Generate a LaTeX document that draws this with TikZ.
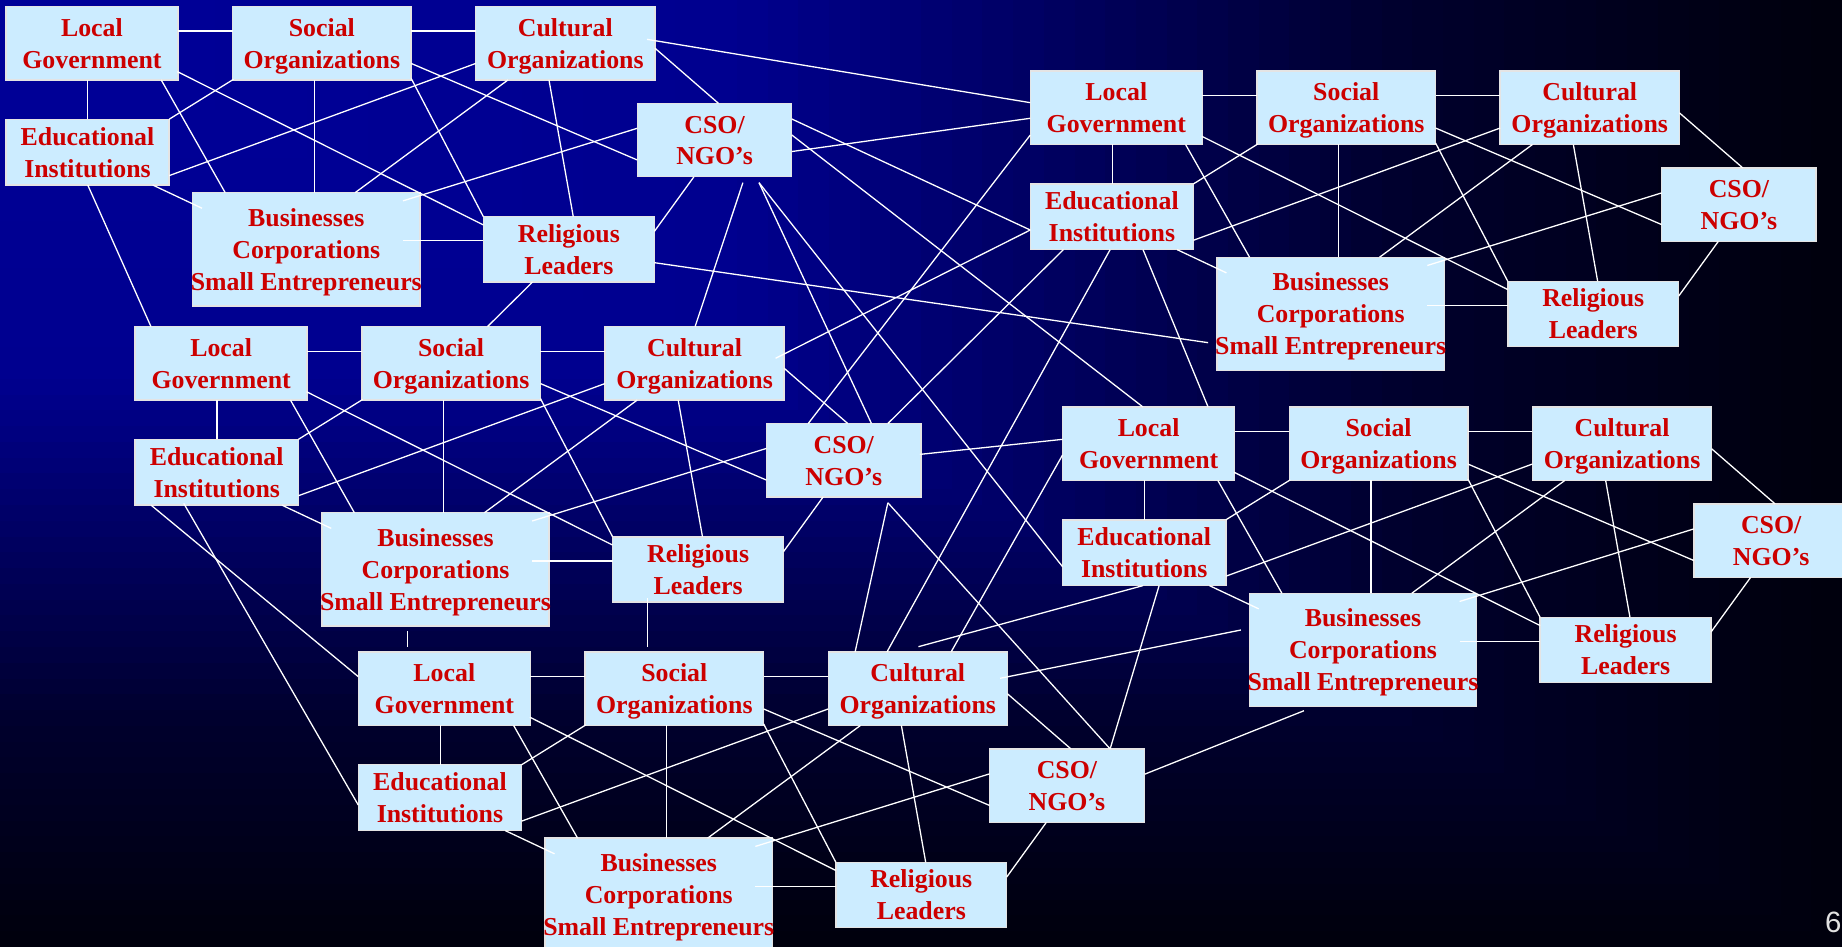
\documentclass[tikz,border=0pt]{standalone}
\usepackage{fontspec}
\newfontfamily\boxfont{Liberation Serif}
\newfontfamily\numfont{Liberation Sans}
\definecolor{boxfill}{RGB}{204,236,255}
\definecolor{boxred}{RGB}{204,0,0}
\definecolor{boxedge}{RGB}{228,228,228}
\definecolor{numgray}{RGB}{225,225,225}
% fixed line metrics so every box centres its text the same way
\newcommand{\toprl}{\rule{0pt}{10pt}}
\newcommand{\botrl}{\rule[-2.4pt]{0pt}{2.4pt}}
\tikzset{
  box/.style={draw=boxedge, line width=0.6pt, fill=boxfill, text=boxred,
    font=\boxfont\bfseries\fontsize{11}{13.6}\selectfont, align=center,
    inner sep=0pt, outer sep=0pt, anchor=north west},
  lgbox/.style={box, minimum width=73.25pt, minimum height=31.25pt},
  sobox/.style={box, minimum width=76pt, minimum height=31.25pt},
  cobox/.style={box, minimum width=76.25pt, minimum height=31.25pt},
  eibox/.style={box, minimum width=69.5pt, minimum height=28pt},
  bubox/.style={box, minimum width=96.75pt, minimum height=48.25pt},
  rlbox/.style={box, minimum width=72.75pt, minimum height=27.75pt},
  csobox/.style={box, minimum width=65.75pt, minimum height=31.25pt},
  conn/.style={draw=white, line width=0.55pt},
}
% one cluster of seven nodes with its internal connectors
\newcommand{\cluster}[3]{%
  \begin{scope}[shift={(#2,#3)}]
    \node[lgbox] (#1lg) at (5,5.5) {\toprl Local\\Government\botrl};
    \node[sobox] (#1so) at (198,5.5) {\toprl Social\\Organizations\botrl};
    \node[cobox] (#1co) at (405,5.5) {\toprl Cultural\\Organizations\botrl};
    \node[eibox] (#1ei) at (5,101.5) {\toprl Educational\\Institutions\botrl};
    \node[bubox] (#1bu) at (164,164) {\toprl Businesses\\Corporations\\\makebox[96pt]{Small Entrepreneurs}\botrl};
    \node[rlbox] (#1rl) at (411.5,184.5) {\toprl Religious\\Leaders\botrl};
    \node[csobox] (#1cso) at (542.5,88) {\toprl CSO/\\NGO’s\botrl};
  \end{scope}
  \draw[conn] ([shift={(146.5,21)}]#1lg.north west) -- ([shift={(0,21)}]#1so.north west);
  \draw[conn] ([shift={(152,21)}]#1so.north west) -- ([shift={(0,21)}]#1co.north west);
  \draw[conn] ([shift={(69.7,62.5)}]#1lg.north west) -- ([shift={(69.7,0)}]#1ei.north west);
  \draw[conn] ([shift={(146,55.5)}]#1lg.north west) -- ([shift={(0,7)}]#1rl.north west);
  \draw[conn] ([shift={(132.2,62.5)}]#1lg.north west) -- ([shift={(27.7,0)}]#1bu.north west);
  \draw[conn] ([shift={(0.8,62)}]#1so.north west) -- ([shift={(139,0)}]#1ei.north west);
  \draw[conn] ([shift={(69.5,62.5)}]#1so.north west) -- ([shift={(103.5,0)}]#1bu.north west);
  \draw[conn] ([shift={(152,48.5)}]#1so.north west) -- ([shift={(0,48.2)}]#1cso.north west);
  \draw[conn] ([shift={(152,61.2)}]#1so.north west) -- ([shift={(0,0)}]#1rl.north west);
  \draw[conn] ([shift={(0,48.5)}]#1co.north west) -- ([shift={(139,48)}]#1ei.north west);
  \draw[conn] ([shift={(27.5,62.5)}]#1co.north west) -- ([shift={(138.3,0)}]#1bu.north west);
  \draw[conn] ([shift={(62.3,62.5)}]#1co.north west) -- ([shift={(76.5,0)}]#1rl.north west);
  \draw[conn] ([shift={(152.5,35.5)}]#1co.north west) -- ([shift={(69.1,0)}]#1cso.north west);
  \draw[conn] ([shift={(125,56)}]#1ei.north west) -- ([shift={(8,13.3)}]#1bu.north west);
  \draw[conn] ([shift={(179,41)}]#1bu.north west) -- ([shift={(0,20.5)}]#1rl.north west);
  \draw[conn] ([shift={(179,7)}]#1bu.north west) -- ([shift={(0,21.2)}]#1cso.north west);
  \draw[conn] ([shift={(145.5,12.5)}]#1rl.north west) -- ([shift={(48.2,62.5)}]#1cso.north west);
}
\begin{document}
\begin{tikzpicture}[x=0.5pt, y=-0.5pt]
  \useasboundingbox (0,0) rectangle (1568,806);
  \clip (0,0) rectangle (1568,806);
  % background: corner gradient, blue at top left to black
  \foreach \i in {0,...,59}{
    \pgfmathsetmacro\t{1-\i/60}
    \pgfmathsetmacro\tm{\t-1/120}
    \pgfmathtruncatemacro\b{\tm<0.4 ? 153-25*\tm : (\tm<0.76 ? 143-(\tm-0.4)*269.4 : 46-(\tm-0.76)*141.7)}
    \definecolor{bgc}{RGB}{0,0,\b}
    \fill[bgc] (0,0) rectangle ({1568*\t},{806*\t});
  }
  % five clusters
  \cluster{A-}{0}{0}
  \cluster{B-}{872}{55}
  \cluster{C-}{110}{272.5}
  \cluster{D-}{899.5}{341}
  \cluster{E-}{300}{549.5}
  % connectors between clusters
  \draw[conn] ([shift={(145.8,28)}]A-co.north west) -- ([shift={(0,26.9)}]B-lg.north west);
  \draw[conn] ([shift={(131.5,41)}]A-cso.north west) -- ([shift={(0,40.2)}]B-lg.north west);
  \draw[conn] ([shift={(131.5,13.3)}]A-cso.north west) -- ([shift={(0,39.3)}]B-ei.north west);
  \draw[conn] ([shift={(131.5,26.9)}]A-cso.north west) -- ([shift={(68.5,0)}]D-lg.north west);
  \draw[conn] ([shift={(89.9,67.5)}]A-cso.north west) -- ([shift={(76.7,0)}]C-co.north west);
  \draw[conn] ([shift={(103.6,67.5)}]A-cso.north west) -- ([shift={(89.3,0)}]C-cso.north west);
  \draw[conn] ([shift={(103.6,67.5)}]A-cso.north west) -- ([shift={(0,39.9)}]D-ei.north west);
  \draw[conn] ([shift={(145.5,39.1)}]A-rl.north west) -- ([shift={(-7.6,72.7)}]B-bu.north west);
  \draw[conn] ([shift={(41.9,55.5)}]A-rl.north west) -- ([shift={(107,0)}]C-so.north west);
  \draw[conn] ([shift={(69.7,56)}]A-ei.north west) -- ([shift={(13.5,0)}]C-lg.north west);
  \draw[conn] ([shift={(0,54.5)}]B-lg.north west) -- ([shift={(35.5,0)}]C-cso.north west);
  \draw[conn] ([shift={(0,39.3)}]B-ei.north west) -- ([shift={(145.2,27)}]C-co.north west);
  \draw[conn] ([shift={(28.2,56)}]B-ei.north west) -- ([shift={(103.3,0)}]C-cso.north west);
  \draw[conn] ([shift={(68,56)}]B-ei.north west) -- ([shift={(50,0)}]E-co.north west);
  \draw[conn] ([shift={(96,56)}]B-ei.north west) -- ([shift={(123.9,0)}]D-lg.north west);
  \draw[conn] ([shift={(130.5,26.3)}]C-cso.north west) -- ([shift={(0,27.5)}]D-lg.north west);
  \draw[conn] ([shift={(103.3,67.5)}]C-cso.north west) -- ([shift={(22.9,0)}]E-co.north west);
  \draw[conn] ([shift={(103.3,67.5)}]C-cso.north west) -- ([shift={(102.5,0)}]E-cso.north west);
  \draw[conn] ([shift={(0,40.8)}]D-lg.north west) -- ([shift={(104.6,0)}]E-co.north west);
  \draw[conn] ([shift={(68.5,56)}]D-ei.north west) -- ([shift={(76.8,-4.5)}]E-co.north west);
  \draw[conn] ([shift={(82.2,56)}]D-ei.north west) -- ([shift={(102.5,0)}]E-cso.north west);
  \draw[conn] ([shift={(146.3,22.4)}]E-co.north west) -- ([shift={(-7.2,31.3)}]D-bu.north west);
  \draw[conn] ([shift={(132,21.5)}]E-cso.north west) -- ([shift={(46.5,100)}]D-bu.north west);
  \draw[conn] ([shift={(13.6,56)}]C-ei.north west) -- ([shift={(0,21)}]E-lg.north west);
  \draw[conn] ([shift={(41.4,54.5)}]C-ei.north west) -- ([shift={(0,34.3)}]E-ei.north west);
  \draw[conn] ([shift={(72.7,100.5)}]C-bu.north west) -- ([shift={(41.7,-4)}]E-lg.north west);
  \draw[conn] ([shift={(29.5,52)}]C-rl.north west) -- ([shift={(53,-4.5)}]E-so.north west);
  % page number
  \node[anchor=base east, inner sep=0pt, text=numgray,
        font=\numfont\fontsize{12.5}{14}\selectfont] (pagenum) at (1568,794) {6};
\end{tikzpicture}
\end{document}
